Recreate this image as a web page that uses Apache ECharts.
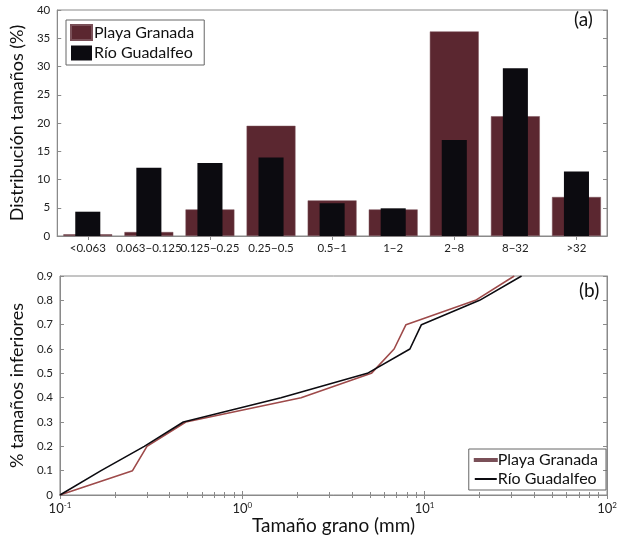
<!DOCTYPE html>
<html>
<head>
<meta charset="utf-8">
<script src="https://cdn.jsdelivr.net/npm/echarts@6/dist/echarts.min.js"></script>
<style>
  html, body { margin: 0; padding: 0; background: #fff; }
  #chart { width: 620px; height: 536px; }
</style>
</head>
<body>
<div id="chart"></div>
<script>
var sizeClasses = ['<0.063', '0.063\u22120.125', '0.125\u22120.25', '0.25\u22120.5', '0.5\u22121', '1\u22122', '2\u22128', '8\u221232', '>32'];
var playaPct = [0.3, 0.7, 4.7, 19.5, 6.3, 4.7, 36.2, 21.2, 6.9];
var rioPct = [4.3, 12.1, 12.9, 13.9, 5.8, 4.9, 17.0, 29.7, 11.4];

// cumulative curves: [grain size mm, fraction finer]
var playaCum = [[0.1, 0], [0.25, 0.1], [0.30, 0.2], [0.49, 0.3], [2.1, 0.4], [5.1, 0.5], [6.8, 0.6], [7.9, 0.7], [19, 0.8], [31, 0.9]];
var rioCum = [[0.1, 0], [0.168, 0.1], [0.29, 0.2], [0.475, 0.3], [1.63, 0.4], [4.85, 0.5], [8.3, 0.6], [9.6, 0.7], [20, 0.8], [34, 0.9]];

var maroon = '#5b2730';
var brown = '#9e4a4a';
var black = '#0c0b10';
var axisGray = '#8a8a8a';
var font = 'Lato';

var chartDom = document.getElementById('chart');
var myChart = echarts.init(chartDom);

var tickInside = { show: true, inside: true, length: 4, lineStyle: { color: axisGray } };
var minorInside = { show: true, splitNumber: 9, length: 3, lineStyle: { color: axisGray } };
var lineGray = { show: true, lineStyle: { color: axisGray, width: 1 } };
var tickLabel = { color: '#222', fontSize: 11.5, fontFamily: font };

var option = {
    animation: false,
    backgroundColor: '#fff',
    grid: [
        { left: 55, right: 13, top: 10, height: 226, show: true, borderColor: axisGray, borderWidth: 1 },
        { left: 54, right: 13, top: 276, height: 221, show: true, borderColor: axisGray, borderWidth: 1 }
    ],
    legend: [
        {
            left: 66, top: 20, orient: 'vertical',
            borderColor: '#666', borderWidth: 1, padding: [4, 10, 4, 4],
            itemWidth: 21, itemHeight: 15, itemGap: 4,
            textStyle: { fontSize: 16, fontFamily: font, color: '#111', padding: [0, 0, 0, -3] },
            data: [
                { name: 'Playa Granada', icon: 'rect' },
                { name: 'Río Guadalfeo', icon: 'rect' }
            ]
        },
        {
            right: 14, bottom: 46, orient: 'vertical',
            borderColor: '#666', borderWidth: 1, padding: [3, 8, 3, 5],
            itemWidth: 22, itemHeight: 2, itemGap: 3,
            textStyle: { fontSize: 16, fontFamily: font, color: '#111', padding: [0, 0, 0, -4] },
            data: [
                { name: 'Playa Granada', icon: 'rect', itemStyle: { color: brown } },
                { name: 'Río Guadalfeo', icon: 'rect', itemStyle: { color: black } }
            ]
        }
    ],
    graphic: [
        { type: 'text', left: 574, top: 10, style: { text: '(a)', fontSize: 19, fontFamily: font, fill: '#111' } },
        { type: 'text', left: 579, top: 281, style: { text: '(b)', fontSize: 19, fontFamily: font, fill: '#111' } }
    ],
    xAxis: [
        {
            type: 'category', gridIndex: 0, position: 'bottom', data: sizeClasses,
            axisLine: lineGray, axisTick: Object.assign({ alignWithLabel: true }, tickInside),
            axisLabel: Object.assign({ interval: 0, margin: 6 }, tickLabel)
        },
        {
            type: 'category', gridIndex: 0, position: 'top', data: sizeClasses,
            axisLine: lineGray, axisTick: Object.assign({ alignWithLabel: true }, tickInside),
            axisLabel: { show: false }
        },
        {
            type: 'log', gridIndex: 1, position: 'bottom', min: 0.1, max: 100, logBase: 10,
            axisLine: lineGray, axisTick: tickInside, minorTick: minorInside,
            splitLine: { show: false },
            axisLabel: Object.assign({
                margin: 6,
                formatter: function (v) { return '10{sup|' + Math.round(Math.log10(v)) + '}'; },
                rich: { sup: { fontSize: 8, fontFamily: font, color: '#222', verticalAlign: 'top', padding: [0, 0, 7, 0] } }
            }, tickLabel, { fontSize: 13 }),
            name: 'Tamaño grano (mm)', nameLocation: 'middle', nameGap: 21,
            nameTextStyle: { fontSize: 19, fontFamily: font, color: '#111' }
        },
        {
            type: 'log', gridIndex: 1, position: 'top', min: 0.1, max: 100, logBase: 10,
            axisLine: lineGray, axisTick: tickInside, minorTick: minorInside,
            splitLine: { show: false }, axisLabel: { show: false }
        }
    ],
    yAxis: [
        {
            type: 'value', gridIndex: 0, position: 'left', min: 0, max: 40, interval: 5,
            axisLine: lineGray, axisTick: tickInside, splitLine: { show: false },
            axisLabel: Object.assign({ margin: 7 }, tickLabel),
            name: 'Distribución tamaños (%)', nameLocation: 'middle', nameGap: 30,
            nameTextStyle: { fontSize: 18, fontFamily: font, color: '#111' }
        },
        {
            type: 'value', gridIndex: 0, position: 'right', min: 0, max: 40, interval: 5,
            axisLine: lineGray, axisTick: tickInside, splitLine: { show: false },
            axisLabel: { show: false }
        },
        {
            type: 'value', gridIndex: 1, position: 'left', min: 0, max: 0.9, interval: 0.1,
            axisLine: lineGray, axisTick: tickInside, splitLine: { show: false },
            axisLabel: Object.assign({ margin: 7 }, tickLabel),
            name: '% tamaños inferiores', nameLocation: 'middle', nameGap: 30,
            nameTextStyle: { fontSize: 18, fontFamily: font, color: '#111' }
        },
        {
            type: 'value', gridIndex: 1, position: 'right', min: 0, max: 0.9, interval: 0.1,
            axisLine: lineGray, axisTick: tickInside, splitLine: { show: false },
            axisLabel: { show: false }
        }
    ],
    series: [
        {
            name: 'Playa Granada', type: 'bar', xAxisIndex: 0, yAxisIndex: 0,
            data: playaPct, barWidth: '80%', itemStyle: { color: maroon, borderColor: '#7a5058', borderWidth: 0.5 }
        },
        {
            name: 'Río Guadalfeo', type: 'bar', xAxisIndex: 1, yAxisIndex: 0,
            data: rioPct, barWidth: '41%', itemStyle: { color: black }
        },
        {
            name: 'Playa Granada', type: 'line', xAxisIndex: 2, yAxisIndex: 2,
            data: playaCum, showSymbol: false, symbol: 'none', color: brown,
            lineStyle: { color: brown, width: 1.6 }
        },
        {
            name: 'Río Guadalfeo', type: 'line', xAxisIndex: 2, yAxisIndex: 2,
            data: rioCum, showSymbol: false, symbol: 'none', color: black,
            lineStyle: { color: black, width: 1.6 }
        }
    ]
};

myChart.setOption(option);
</script>
</body>
</html>
